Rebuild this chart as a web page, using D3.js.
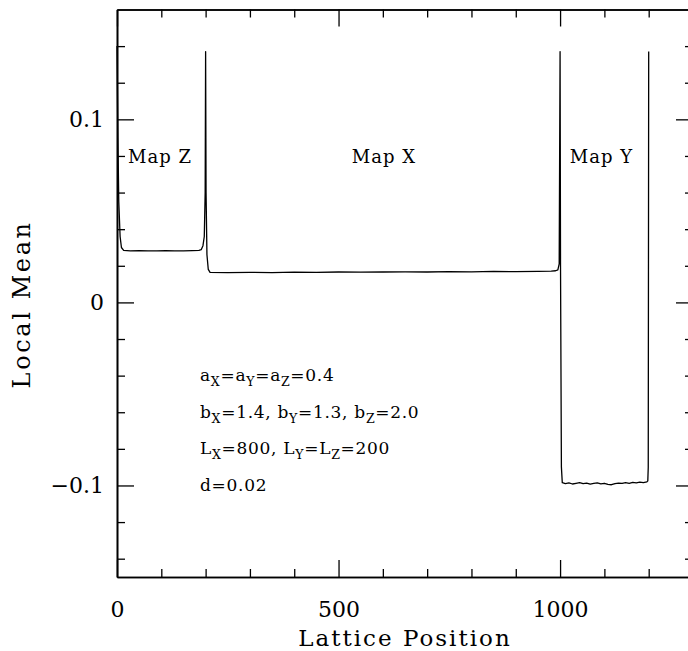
<!DOCTYPE html>
<html>
<head>
<meta charset="utf-8">
<script src="https://cdn.jsdelivr.net/npm/d3@7"></script>
<style>
  html, body { margin: 0; padding: 0; background: #fff; }
  svg { display: block; }
  text { font-family: "DejaVu Serif", "Liberation Serif", serif; fill: #000; }
</style>
</head>
<body>
<div id="chart"></div>
<script>
// ---------------- data ----------------
const positions = [
  0, 2, 4, 7, 10, 15, 30, 50, 70, 90, 110, 130, 150, 170, 185, 190, 194, 197, 199, 200, 201, 203, 206, 210,
  250, 300, 350, 400, 450, 500, 550, 600, 650, 700, 750, 800, 850, 900, 950, 980, 990, 995, 998, 1000, 1001, 1003,
  1005, 1012, 1020, 1028, 1036, 1044, 1052, 1060, 1068, 1076, 1084, 1092, 1100, 1108, 1116, 1124, 1132, 1140,
  1148, 1156, 1164, 1172, 1180, 1188, 1196, 1198, 1199, 1200
];
const localMean = [
  0.140, 0.090, 0.055, 0.036, 0.030, 0.0284, 0.0282, 0.0283, 0.0281, 0.0282, 0.0283, 0.0282, 0.0281, 0.0283, 0.0284, 0.0288, 0.031, 0.036, 0.060, 0.137, 0.060, 0.026, 0.0180, 0.0164,
  0.0163, 0.0164, 0.0163, 0.0165, 0.0164, 0.0166, 0.0165, 0.0166, 0.0167, 0.0166, 0.0168, 0.0167, 0.0169, 0.0168, 0.0170, 0.0171, 0.0173, 0.0178, 0.021, 0.137, 0.020, -0.090,
  -0.0985, -0.0990, -0.0986, -0.0992, -0.0988, -0.0984, -0.0990, -0.0987, -0.0993, -0.0989, -0.0986, -0.0991, -0.0988, -0.0994, -0.0996, -0.0990, -0.0987, -0.0989,
  -0.0985, -0.0988, -0.0983, -0.0986, -0.0982, -0.0985, -0.0980, -0.0975, -0.090, 0.137
];
const xMajorTicks = [0, 500, 1000];
const xMajorLabels = ["0", "500", "1000"];
const xMinorTicks = [100, 200, 300, 400, 600, 700, 800, 900, 1100, 1200];
const yMajorTicks = [-0.1, 0, 0.1];
const yMajorLabels = ["\u22120.1", "0", "0.1"];
const yMinorTicks = [-0.14, -0.12, -0.08, -0.06, -0.04, -0.02, 0.02, 0.04, 0.06, 0.08, 0.12, 0.14];
const mapLabels = ["Map Z", "Map X", "Map Y"];
const mapLabelPos = [25, 530, 1022];   // lattice position where label text starts
const mapLabelValue = [0.076, 0.076, 0.076];
const paramLines = ["a_X=a_Y=a_Z=0.4", "b_X=1.4, b_Y=1.3, b_Z=2.0", "L_X=800, L_Y=L_Z=200", "d=0.02"];
const xTitle = "Lattice Position";
const yTitle = "Local Mean";

// ---------------- layout ----------------
const W = 688, H = 651;
const x = d3.scaleLinear().domain([0, 1300]).range([117, 693]);
const y = d3.scaleLinear().domain([-0.15, 0.16]).range([577, 9.5]);
const majorLen = 17, minorLen = 8;

const svg = d3.select("#chart").append("svg")
  .attr("width", W).attr("height", H).attr("viewBox", `0 0 ${W} ${H}`);
svg.append("rect").attr("width", W).attr("height", H).attr("fill", "#fff");

function styleAxis(g) {
  g.select(".domain").attr("stroke", "#000").attr("stroke-width", 1.6);
  g.selectAll(".tick line").attr("stroke", "#000").attr("stroke-width", 1.3);
  g.selectAll("text").attr("font-family", '"DejaVu Serif", serif').attr("font-size", 22).attr("fill", "#000");
}

// bottom
svg.append("g").attr("transform", `translate(0,${y.range()[0]})`)
  .call(d3.axisBottom(x).tickValues(xMajorTicks).tickSize(-majorLen).tickSizeOuter(0)
    .tickPadding(24).tickFormat((d, i) => xMajorLabels[i]))
  .call(styleAxis);
svg.append("g").attr("transform", `translate(0,${y.range()[0]})`)
  .call(d3.axisBottom(x).tickValues(xMinorTicks).tickSize(-minorLen).tickSizeOuter(0).tickFormat(""))
  .call(styleAxis);
// top
svg.append("g").attr("transform", `translate(0,${y.range()[1]})`)
  .call(d3.axisTop(x).tickValues(xMajorTicks).tickSize(-majorLen).tickSizeOuter(0).tickFormat(""))
  .call(styleAxis);
svg.append("g").attr("transform", `translate(0,${y.range()[1]})`)
  .call(d3.axisTop(x).tickValues(xMinorTicks).tickSize(-minorLen).tickSizeOuter(0).tickFormat(""))
  .call(styleAxis);
// left
svg.append("g").attr("transform", `translate(${x.range()[0]},0)`)
  .call(d3.axisLeft(y).tickValues(yMajorTicks).tickSize(-majorLen).tickSizeOuter(0)
    .tickPadding(13).tickFormat((d, i) => yMajorLabels[i]))
  .call(styleAxis);
svg.append("g").attr("transform", `translate(${x.range()[0]},0)`)
  .call(d3.axisLeft(y).tickValues(yMinorTicks).tickSize(-minorLen).tickSizeOuter(0).tickFormat(""))
  .call(styleAxis);
// right
svg.append("g").attr("transform", `translate(${x.range()[1]},0)`)
  .call(d3.axisRight(y).tickValues(yMajorTicks).tickSize(-majorLen).tickSizeOuter(0).tickFormat(""))
  .call(styleAxis);
svg.append("g").attr("transform", `translate(${x.range()[1]},0)`)
  .call(d3.axisRight(y).tickValues(yMinorTicks).tickSize(-minorLen).tickSizeOuter(0).tickFormat(""))
  .call(styleAxis);

// data line
const pts = positions.map((p, i) => [p, localMean[i]]);
svg.append("path").datum(pts)
  .attr("fill", "none").attr("stroke", "#000").attr("stroke-width", 1.3)
  .attr("stroke-linejoin", "round")
  .attr("d", d3.line().x(d => x(d[0])).y(d => y(d[1])));

// map labels
svg.selectAll("text.map").data(mapLabels).join("text")
  .attr("class", "map")
  .attr("x", (d, i) => x(mapLabelPos[i]))
  .attr("y", (d, i) => y(mapLabelValue[i]))
  .attr("font-size", 18).attr("letter-spacing", 1)
  .text(d => d);

// parameter annotations (subscripts marked with _)
const subShift = 5;
paramLines.forEach((line, li) => {
  const t = svg.append("text").attr("x", 200).attr("y", 381 + li * 36.7)
    .attr("font-size", 17).attr("letter-spacing", 0.7).attr("xml:space", "preserve");
  const parts = line.split(/(_.)/).filter(p => p.length);
  let pending = 0;
  parts.forEach(p => {
    if (p.startsWith("_")) {
      t.append("tspan").attr("font-size", 12.5).attr("dy", subShift + pending).text(p.slice(1));
      pending = -subShift;
    } else {
      t.append("tspan").attr("dy", pending).text(p);
      pending = 0;
    }
  });
});

// axis titles
svg.append("text").attr("x", 405).attr("y", 646).attr("text-anchor", "middle")
  .attr("font-size", 23).attr("letter-spacing", 2).text(xTitle);
svg.append("text").attr("transform", `translate(30,${y(0) + 2}) rotate(-90)`).attr("text-anchor", "middle")
  .attr("font-size", 24).attr("letter-spacing", 2.6).text(yTitle);
</script>
</body>
</html>
